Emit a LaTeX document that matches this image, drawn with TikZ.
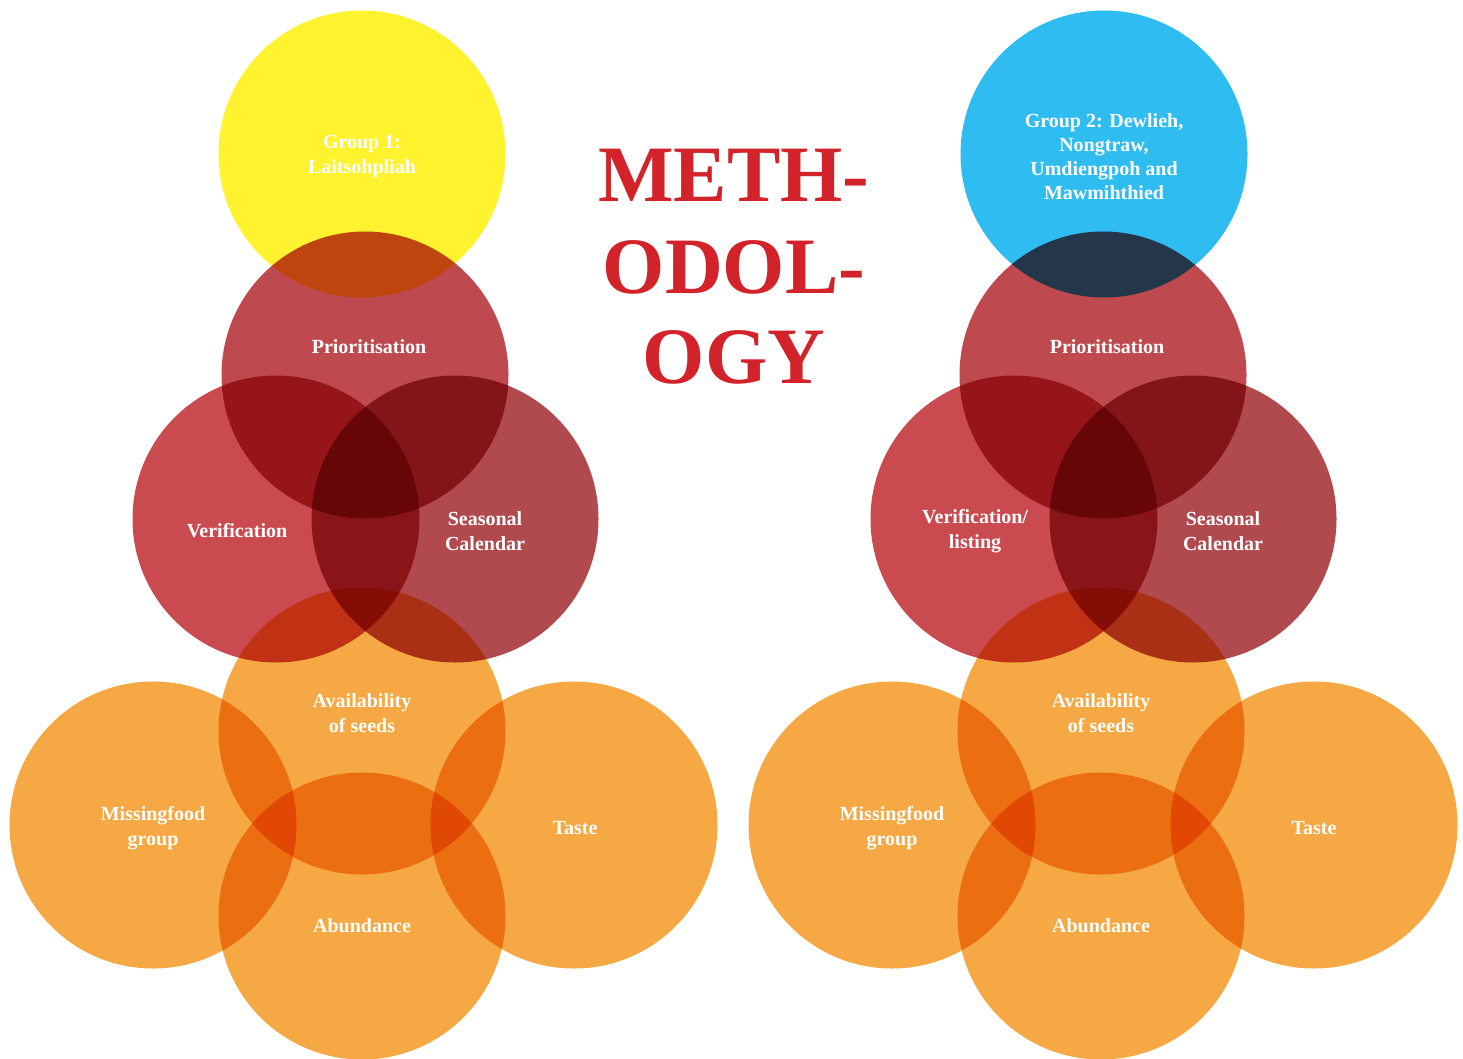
\documentclass[tikz,border=0pt]{standalone}
\usepackage{fontspec}
\setmainfont{Liberation Serif}
\definecolor{cyel}{HTML}{FFF22E}
\definecolor{cblu}{HTML}{2FBCF0}
\definecolor{cpri}{HTML}{BE4A4F}
\definecolor{cver}{HTML}{C94B4F}
\definecolor{csea}{HTML}{B04A4E}
\definecolor{cora}{HTML}{F5A843}
\definecolor{ctitle}{HTML}{D2232A}
\tikzset{
  disc/.style={circle, minimum size=287pt, inner sep=0pt, draw=none},
  lbl/.style={text=white, font=\fontsize{20}{25}\selectfont\bfseries, align=center, inner sep=0pt},
  ttl/.style={text=ctitle, font=\fontsize{80}{90}\selectfont\bfseries, anchor=base, inner sep=0pt}
}
\begin{document}
\begin{tikzpicture}[x=1pt,y=-1pt]
\useasboundingbox (0,0) rectangle (1463,1059);
\fill[white] (0,0) rectangle (1463,1059);
\begin{scope}[blend group=multiply]
  % left group
  \node[disc, fill=cyel] (ya) at (362,154) {};
  \node[disc, fill=cpri] (pa) at (365,375) {};
  \node[disc, fill=cver] (va) at (276,519) {};
  \node[disc, fill=csea] (sa) at (455,519) {};
  \node[disc, fill=cora] (aa) at (362,731) {};
  \node[disc, fill=cora] (ma) at (153,825) {};
  \node[disc, fill=cora] (ta) at (574,825) {};
  \node[disc, fill=cora] (ba) at (362,916) {};
  % right group
  \node[disc, fill=cblu] (yb) at (1104,154) {};
  \node[disc, fill=cpri] (pb) at (1103,375) {};
  \node[disc, fill=cver] (vb) at (1014,519) {};
  \node[disc, fill=csea] (sb) at (1193,519) {};
  \node[disc, fill=cora] (ab) at (1101,731) {};
  \node[disc, fill=cora] (mb) at (892,825) {};
  \node[disc, fill=cora] (tb) at (1314,825) {};
  \node[disc, fill=cora] (bb) at (1101,916) {};
\end{scope}
% left labels
\node[lbl] (lya) at (362,157) {Group 1:\\Laitsohpliah};
\node[lbl] (lpa) at (369,347) {Prioritisation};
\node[lbl] (lva) at (237,531) {Verification};
\node[lbl] (lsa) at (485,531) {Seasonal\\Calendar};
\node[lbl] (laa) at (362,713) {Availability\\of seeds};
\node[lbl] (lma) at (153,828) {Missingfood\\group};
\node[lbl] (lta) at (575,828) {Taste};
\node[lbl] (lba) at (362,926) {Abundance};
% right labels
\node[lbl, font=\fontsize{20}{24}\selectfont\bfseries] (lyb) at (1104,157) {Group 2: Dewlieh,\\Nongtraw,\\Umdiengpoh and\\Mawmihthied};
\node[lbl] (lpb) at (1107,347) {Prioritisation};
\node[lbl] (lvb) at (975,531) {Verification/\\listing};
\node[lbl] (lsb) at (1223,531) {Seasonal\\Calendar};
\node[lbl] (lab) at (1101,713) {Availability\\of seeds};
\node[lbl] (lmb) at (892,828) {Missingfood\\group};
\node[lbl] (ltb) at (1314,828) {Taste};
\node[lbl] (lbb) at (1101,926) {Abundance};
% title
\node[ttl] (t1) at (734,202) {METH-};
\node[ttl] (t2) at (734,293) {ODOL-};
\node[ttl] (t3) at (734,383) {OGY};
\end{tikzpicture}
\end{document}
